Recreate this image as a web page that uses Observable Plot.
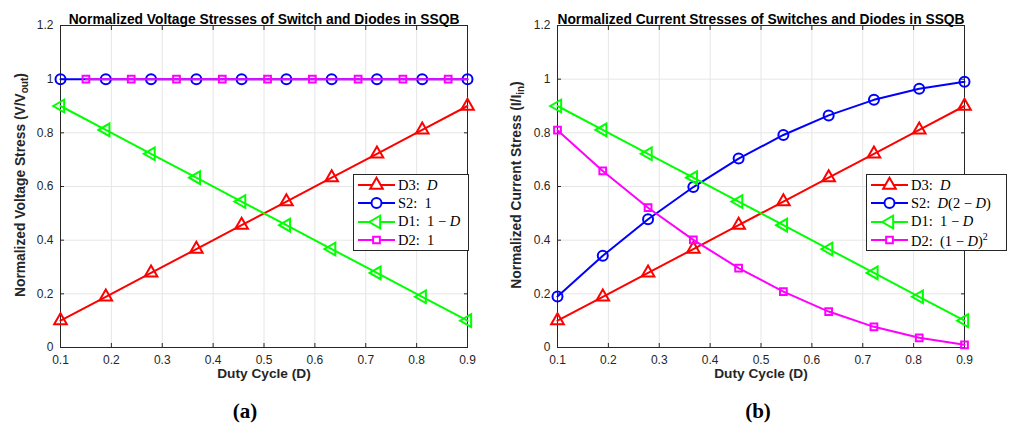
<!DOCTYPE html>
<html><head><meta charset="utf-8">
<script src="https://cdn.jsdelivr.net/npm/d3@7"></script>
<script src="https://cdn.jsdelivr.net/npm/@observablehq/plot@0.6"></script>
<style>
body{margin:0;background:#fff;}
#wrap{position:relative;width:1009px;height:429px;overflow:hidden;font-family:"Liberation Sans",Arial,sans-serif;}
.panel{position:absolute;top:0;}
.legend{position:absolute;background:#fff;border:1px solid #262626;box-sizing:border-box;padding:1px 0;font-family:"Liberation Serif","DejaVu Serif",serif;font-size:14.5px;color:#000;}
.legend .row{display:flex;align-items:center;height:18.3px;white-space:pre;}
.legend svg{display:block;flex:none;}
.cap{position:absolute;font-family:"Liberation Serif","DejaVu Serif",serif;font-weight:bold;font-size:21px;transform:translateX(-50%);line-height:1;}
</style></head>
<body><div id="wrap"></div>
<script>
// ---- tick labels ----
const xTicks = [0.1, 0.2, 0.3, 0.4, 0.5, 0.6, 0.7, 0.8, 0.9];
const yTicks = [0, 0.2, 0.4, 0.6, 0.8, 1, 1.2];

// ---- (a) voltage stresses ----
const voltDuty   = [0.1, 0.189, 0.278, 0.367, 0.456, 0.544, 0.633, 0.722, 0.811, 0.9];
const voltD3     = [0.1, 0.189, 0.278, 0.367, 0.456, 0.544, 0.633, 0.722, 0.811, 0.9];
const voltS2     = [1, 1, 1, 1, 1, 1, 1, 1, 1, 1];
const voltD1     = [0.9, 0.811, 0.722, 0.633, 0.544, 0.456, 0.367, 0.278, 0.189, 0.1];
const voltD2Duty = [0.15, 0.239, 0.328, 0.418, 0.507, 0.595, 0.685, 0.773, 0.862, 0.9];
const voltD2     = [1, 1, 1, 1, 1, 1, 1, 1, 1, 1];
const voltD2Mark = [true, true, true, true, true, true, true, true, true, false];

// ---- (b) current stresses ----
const currDuty = [0.1, 0.189, 0.278, 0.367, 0.456, 0.544, 0.633, 0.722, 0.811, 0.9];
const currD3   = [0.1, 0.189, 0.278, 0.367, 0.456, 0.544, 0.633, 0.722, 0.811, 0.9];
const currS2   = [0.19, 0.342, 0.478, 0.598, 0.704, 0.792, 0.865, 0.923, 0.964, 0.99];
const currD1   = [0.9, 0.811, 0.722, 0.633, 0.544, 0.456, 0.367, 0.278, 0.189, 0.1];
const currD2   = [0.81, 0.658, 0.521, 0.401, 0.296, 0.208, 0.134, 0.077, 0.036, 0.01];

// ---- series styling ----
const seriesNames   = ["D3", "S2", "D1", "D2"];
const seriesColors  = ["#ff0000", "#0000ff", "#00ff00", "#ff00ff"];
const seriesSymbols = ["triangle", "circle", "triangle", "square"];
const seriesRotate  = [0, 0, -90, 0];
const seriesR       = [4.7, 5, 4.7, 3.8];

const voltLegend = ["D3:  <i>D</i>", "S2:  1", "D1:  1 − <i>D</i>", "D2:  1"];
const currLegend = ["D3:  <i>D</i>", "S2:  <i>D</i>(2 − <i>D</i>)", "D1:  1 − <i>D</i>", "D2:  (1 − <i>D</i>)<sup style='font-size:10px;vertical-align:6px'>2</sup>"];

function toRows(xs, ys, marks) {
  return xs.map((D, i) => ({D, v: ys[i], mark: marks ? marks[i] : true}));
}

const wrap = document.getElementById("wrap");
const fmt = d => String(d);
const AX = "#262626";

function makePanel({left, width, marginLeft, marginRight, title, series, yLabel, ySub, yLabelX, legendLabels, legendBox, caption, capX}) {
  const marks = [
    Plot.gridX(xTicks, {stroke: "#e6e6e6", strokeOpacity: 1}),
    Plot.gridY(yTicks, {stroke: "#e6e6e6", strokeOpacity: 1}),
    Plot.frame({stroke: AX}),
    Plot.axisX(xTicks, {anchor: "bottom", tickSize: 0, tickPadding: 8, tickFormat: fmt, fill: AX, fontSize: 12}),
    Plot.axisY(yTicks, {anchor: "left", tickSize: 0, tickPadding: 7, tickFormat: fmt, fill: AX, fontSize: 12}),
    Plot.axisX(xTicks, {anchor: "bottom", tickSize: -4, tickFormat: () => "", stroke: AX}),
    Plot.axisX(xTicks, {anchor: "top", tickSize: -4, tickFormat: () => "", stroke: AX}),
    Plot.axisY(yTicks, {anchor: "left", tickSize: -4, tickFormat: () => "", stroke: AX}),
    Plot.axisY(yTicks, {anchor: "right", tickSize: -4, tickFormat: () => "", stroke: AX})
  ];
  series.forEach((rows, k) => {
    marks.push(Plot.line(rows, {x: "D", y: "v", stroke: seriesColors[k], strokeWidth: 2}));
    marks.push(Plot.dot(rows.filter(d => d.mark), {x: "D", y: "v", stroke: seriesColors[k], strokeWidth: 2,
      fill: "none", symbol: seriesSymbols[k], r: seriesR[k], rotate: seriesRotate[k]}));
  });
  marks.push(Plot.text([title], {frameAnchor: "top", dy: -11, fontWeight: "bold", fontSize: 13.8, fill: "#000"}));
  marks.push(Plot.text(["Duty Cycle (D)"], {frameAnchor: "bottom", dy: 30, fontWeight: "bold", fontSize: 13.7, fill: AX}));

  const svg = Plot.plot({
    width, height: 395,
    marginLeft, marginRight, marginTop: 25, marginBottom: 48,
    style: {fontFamily: "'Liberation Sans', Arial, sans-serif", fontSize: "12px", background: "transparent", overflow: "visible"},
    x: {domain: [0.1, 0.9], label: null},
    y: {domain: [0, 1.2], label: null},
    marks
  });
  const div = document.createElement("div");
  div.className = "panel";
  div.style.left = left + "px";
  div.appendChild(svg);
  wrap.appendChild(div);

  // y label with subscript
  const t = d3.select(svg).append("text")
    .attr("transform", `translate(${yLabelX},185) rotate(-90)`)
    .attr("text-anchor", "middle").attr("dy", "0.35em")
    .attr("font-weight", "bold").attr("font-size", 13.8).attr("fill", AX);
  t.append("tspan").text(yLabel);
  t.append("tspan").attr("dy", 3).attr("font-size", 10).text(ySub);
  t.append("tspan").attr("dy", -3).text(")");

  // legend
  const lg = document.createElement("div");
  lg.className = "legend";
  Object.assign(lg.style, {left: legendBox[0] + "px", top: legendBox[1] + "px", width: legendBox[2] + "px", height: legendBox[3] + "px"});
  seriesNames.forEach((name, k) => {
    const row = document.createElement("div");
    row.className = "row";
    const s = d3.create("svg").attr("width", 44).attr("height", 18);
    s.append("line").attr("x1", 4).attr("x2", 41).attr("y1", 9).attr("y2", 9)
      .attr("stroke", seriesColors[k]).attr("stroke-width", 2);
    const sym = {triangle: d3.symbolTriangle, circle: d3.symbolCircle, square: d3.symbolSquare}[seriesSymbols[k]];
    s.append("path").attr("d", d3.symbol(sym, Math.PI * seriesR[k] ** 2)())
      .attr("transform", `translate(22.5,9) rotate(${seriesRotate[k]})`)
      .attr("fill", "white").attr("stroke", seriesColors[k]).attr("stroke-width", 2);
    row.appendChild(s.node());
    const sp = document.createElement("span");
    sp.innerHTML = legendLabels[k];
    row.appendChild(sp);
    lg.appendChild(row);
  });
  wrap.appendChild(lg);

  const cap = document.createElement("div");
  cap.className = "cap";
  cap.style.left = capX + "px";
  cap.style.top = "401px";
  cap.textContent = caption;
  wrap.appendChild(cap);
}

makePanel({
  left: 0, width: 504, marginLeft: 60, marginRight: 37,
  title: "Normalized Voltage Stresses of Switch and Diodes in SSQB",
  series: [toRows(voltDuty, voltD3), toRows(voltDuty, voltS2), toRows(voltDuty, voltD1), toRows(voltD2Duty, voltD2, voltD2Mark)],
  yLabel: "Normalized Voltage Stress (V/V", ySub: "out", yLabelX: 20,
  legendLabels: voltLegend, legendBox: [353, 174, 116, 77],
  caption: "(a)", capX: 245
});
makePanel({
  left: 504, width: 505, marginLeft: 53, marginRight: 45,
  title: "Normalized Current Stresses of Switches and Diodes in SSQB",
  series: [toRows(currDuty, currD3), toRows(currDuty, currS2), toRows(currDuty, currD1), toRows(currDuty, currD2)],
  yLabel: "Normalized Current Stress (I/I", ySub: "in", yLabelX: 12.5,
  legendLabels: currLegend, legendBox: [866, 174, 141, 77],
  caption: "(b)", capX: 758
});
</script>
</body></html>
